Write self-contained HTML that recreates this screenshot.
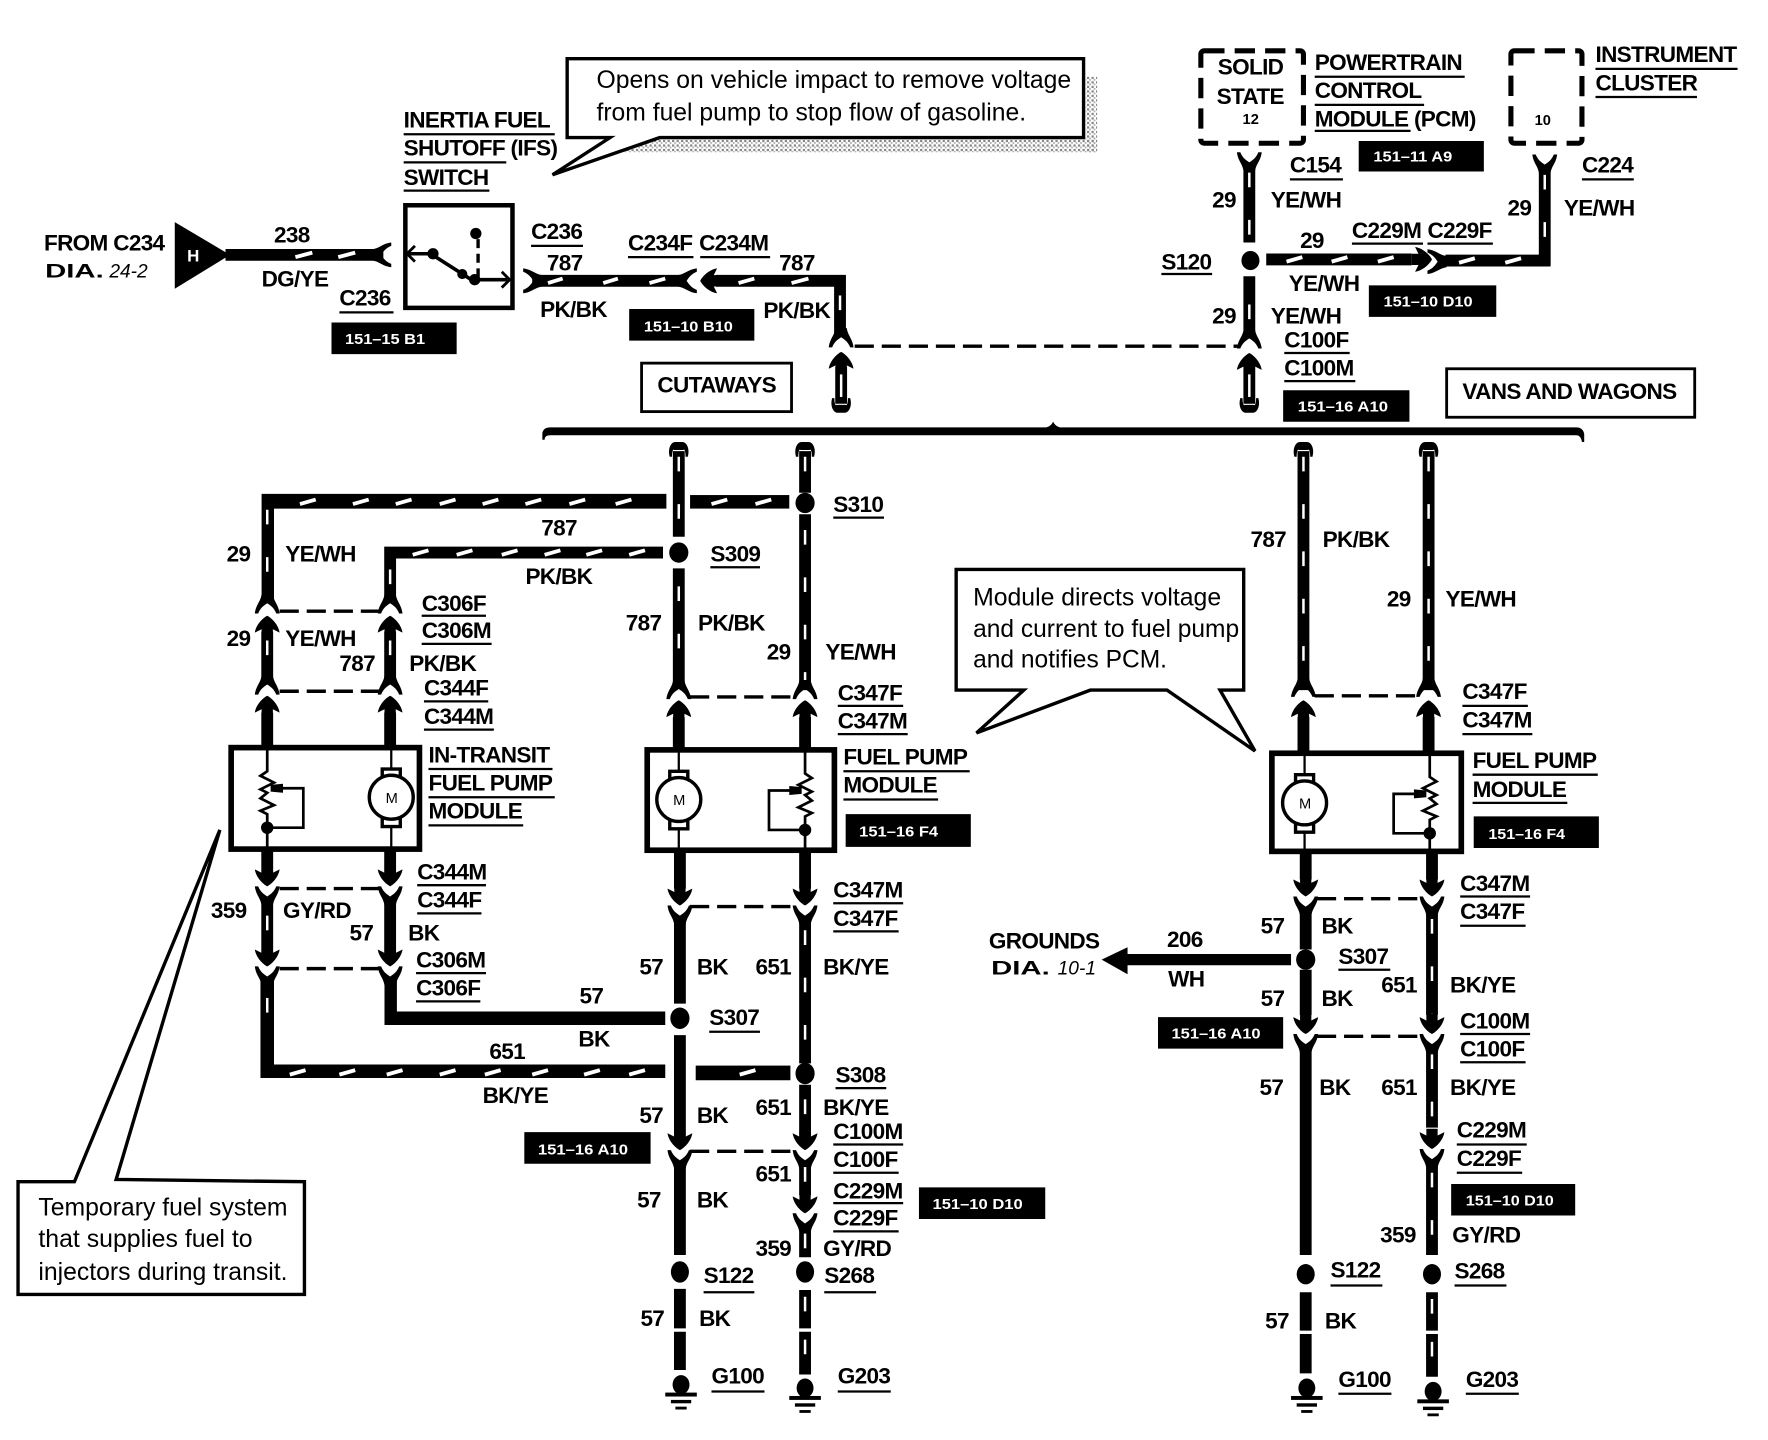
<!DOCTYPE html>
<html><head><meta charset="utf-8"><title>Fuel pump wiring diagram</title>
<style>
html,body{margin:0;padding:0;background:#fff}
svg{display:block}
text{font-family:"Liberation Sans",sans-serif;fill:#000}
.l{font-size:20px;font-weight:bold;letter-spacing:-.6px}
.n{font-size:22px}
.t{font-size:13px;fill:#fff;font-weight:bold}
.w{stroke:#000;stroke-width:10.5;fill:none}
.s{stroke:#fff;stroke-width:2.2;fill:none;stroke-dasharray:13 29}
.h{stroke:#fff;stroke-width:3.4;fill:none}
.u{stroke:#000;stroke-width:2;fill:none}
.da{stroke:#000;stroke-width:3;fill:none;stroke-dasharray:17 7}
.b{fill:#fff;stroke:#000;stroke-width:3}
</style></head><body>
<svg xmlns="http://www.w3.org/2000/svg" width="1768" height="1440" viewBox="0 0 1568 1277">
<defs>
<pattern id="ht" width="4" height="4" patternUnits="userSpaceOnUse"><rect width="2" height="2" fill="#888"/><rect x="2" y="2" width="1.5" height="1.5" fill="#aaa"/></pattern>
<path id="f" d="M-11,0 C-10,8 -6,10 -5,17 L5,17 C6,10 10,8 11,0 L8,0 C6,5 3,7 0,9 C-3,7 -6,5 -8,0Z"/>
<path id="a" d="M0,0 C4,2 10,8 11,15 L5,12 L5,18 L-5,18 L-5,12 L-11,15 C-10,8 -4,2 0,0Z"/>
<path id="c" d="M-8,-9 C-10,-2 -7,4 -3,4 L3,4 C7,4 10,-2 8,-9 L6,-9 C6,-4 5,-2 4,-3 L-4,-3 C-5,-2 -6,-4 -6,-9Z"/>
<g id="g"><ellipse cx="0" cy="7" rx="7.5" ry="8.5"/><rect x="-14" y="14" width="28" height="3.5"/><rect x="-9" y="20.5" width="18" height="3"/><rect x="-5" y="26.5" width="10" height="2.5"/></g>
<g id="mot"><path d="M0,0V90" stroke="#000" stroke-width="2"/><rect x="-8" y="19" width="16" height="8" fill="#fff" stroke="#000" stroke-width="3"/><rect x="-8" y="62" width="16" height="8" fill="#fff" stroke="#000" stroke-width="3"/><circle cx="0" cy="44" r="19.5" fill="#fff" stroke="#000" stroke-width="3"/></g>
<g id="res"><path d="M0,0V21 L6,25 L-6,31 L6,37 L0,40 L6,45 L-6,51 L6,56 L0,59 V90" fill="none" stroke="#000" stroke-width="2.4"/><path d="M-4,36 H-32 V71 H0" fill="none" stroke="#000" stroke-width="2.4"/><path d="M-14,32 L-3,33 L-3,39 L-14,40Z"/><circle cx="0" cy="71" r="5.5"/></g>
</defs>

<!-- halftone shadow -->
<rect x="545" y="123" width="428" height="12" fill="url(#ht)"/>
<rect x="963" y="68" width="10" height="67" fill="url(#ht)"/>

<!-- top wires -->
<polygon points="155,197 204,226 155,256"/>
<text x="166" y="232" font-size="15" font-weight="bold" style="fill:#fff">H</text>
<path class="w" d="M200,226H340"/>
<path class="h" d="M262,228l15,-4M300,228l15,-4"/>
<use href="#f" transform="translate(347,226) rotate(90)"/>
<path class="w" d="M472,249H607"/>
<path class="h" d="M486,251l13,-4M535,251l13,-4M576,251l14,-4"/>
<use href="#f" transform="translate(464,249) rotate(-90)"/>
<use href="#f" transform="translate(618,249) rotate(90)"/>
<use href="#a" transform="translate(621,249) rotate(-90)"/>
<path class="w" d="M635,249H750M745,244V298"/>
<path class="h" d="M655,251l14,-4M702,251l15,-4"/>
<path class="s" d="M745,262V298"/>
<use href="#f" transform="translate(746,308) scale(1,-1)"/>
<path class="da" d="M758,307H1098"/>
<use href="#a" transform="translate(746,312)"/>
<path class="w" d="M746,325V358"/><path class="s" d="M746,332V352" style="stroke-dasharray:none"/>
<use href="#c" transform="translate(746,362)"/>

<path class="w" d="M1108,148V215"/><path class="s" d="M1108,153V215"/>
<use href="#f" transform="translate(1108,135)"/>
<ellipse cx="1109" cy="231" rx="8" ry="8.5"/>
<path class="w" d="M1108,245V298"/><path class="s" d="M1108,270V296"/>
<use href="#f" transform="translate(1108,309) scale(1,-1)"/>
<use href="#a" transform="translate(1108,313)"/>
<path class="w" d="M1108,325V358"/><path class="s" d="M1108,332V352" style="stroke-dasharray:none"/>
<use href="#c" transform="translate(1108,362)"/>
<path class="w" d="M1123,230H1252"/>
<path class="h" d="M1141,232l14,-4M1181,232l14,-4M1222,232l14,-4"/>
<use href="#a" transform="translate(1270,230) rotate(90)"/>
<use href="#f" transform="translate(1266,232) rotate(-90)"/>
<path class="w" d="M1282,231H1375M1370,236V150"/>
<path class="h" d="M1294,233l14,-4M1335,233l14,-4"/>
<path class="s" d="M1370,155V225"/>
<use href="#f" transform="translate(1370,137)"/>

<!-- brace -->
<path d="M481,390 L481,384 Q482,379 488,379 L928,379 Q932,378 934,374 Q936,378 940,379 L1398,379 Q1404,379 1405,385 L1405,392 L1403,392 Q1402,386 1398,386 L488,386 Q483,386 483,390Z"/>

<!-- cutaway wires -->
<path class="w" d="M602,400V476M602,504V612"/><path class="s" d="M602,405V476M602,520V612"/>
<use href="#c" transform="translate(602,396) scale(1,-1)"/>
<path class="w" d="M714,400V437M714,456V612"/><path class="s" d="M714,405V437M714,470V612"/>
<use href="#c" transform="translate(714,396) scale(1,-1)"/>
<path d="M232,438H591V451H243V535H232Z"/>
<rect x="612" y="439" width="88" height="12"/>
<path class="h" d="M266,447l14,-4M313,447l14,-4M351,447l14,-4M390,447l14,-4M428,447l14,-4M466,447l14,-4M505,447l14,-4M546,447l14,-4M631,447l14,-4M670,447l14,-4"/>
<path class="s" d="M237,452V530"/>
<ellipse cx="714" cy="446" rx="8.5" ry="9"/>
<path class="w" d="M346,530V490H588"/>
<path class="h" d="M366,492l14,-4M405,492l14,-4M445,492l14,-4M483,492l14,-4M520,492l14,-4M558,492l14,-4"/>
<path class="s" d="M346,505V530"/>
<ellipse cx="602" cy="490" rx="8.5" ry="9"/>
<use href="#f" transform="translate(237,544) scale(1,-1)"/>
<use href="#f" transform="translate(346,544) scale(1,-1)"/>
<path class="da" d="M248,542H338"/>
<use href="#a" transform="translate(237,546)"/><use href="#a" transform="translate(346,546)"/>
<path class="w" d="M237,560V606M346,560V606"/><path class="s" d="M237,568V600M346,568V600"/>
<use href="#f" transform="translate(237,616) scale(1,-1)"/>
<use href="#f" transform="translate(346,616) scale(1,-1)"/>
<path class="da" d="M248,613H338"/>
<use href="#a" transform="translate(237,617)"/><use href="#a" transform="translate(346,617)"/>
<path class="w" d="M237,632V664M346,632V664"/>

<use href="#f" transform="translate(602,620) scale(1,-1)"/>
<use href="#f" transform="translate(714,620) scale(1,-1)"/>
<path class="da" d="M612,618H705"/>
<use href="#a" transform="translate(602,621)"/><use href="#a" transform="translate(714,621)"/>
<path class="w" d="M602,636V666M714,636V666"/>

<!-- in-transit below -->
<path class="w" d="M237,752V775M346,752V775"/>
<use href="#a" transform="translate(237,786) scale(1,-1)"/><use href="#a" transform="translate(346,786) scale(1,-1)"/>
<use href="#f" transform="translate(237,786)"/><use href="#f" transform="translate(346,786)"/>
<path class="da" d="M248,788H338"/>
<path class="w" d="M237,800V845M346,800V845"/><path class="s" d="M237,812V845"/>
<use href="#a" transform="translate(237,857) scale(1,-1)"/><use href="#a" transform="translate(346,857) scale(1,-1)"/>
<use href="#f" transform="translate(237,857)"/><use href="#f" transform="translate(346,857)"/>
<path class="da" d="M248,859H338"/>
<path d="M341,870H352V897H590V909H341Z"/>
<path d="M231,870H243V944H590V956H231Z"/>
<path class="s" d="M237,885V925"/>
<path class="h" d="M257,953l14,-4M301,953l14,-4M343,953l14,-4M390,953l14,-4M430,953l14,-4M472,953l14,-4M518,953l14,-4M558,953l14,-4"/>
<rect x="617" y="945" width="84" height="13"/>
<path class="h" d="M656,953l14,-4"/>

<!-- cutaways below pump -->
<path class="w" d="M603,752V788M714,752V788"/>
<use href="#a" transform="translate(603,803) scale(1,-1)"/><use href="#a" transform="translate(714,803) scale(1,-1)"/>
<use href="#f" transform="translate(603,803)"/><use href="#f" transform="translate(714,803)"/>
<path class="da" d="M612,804H705"/>
<path class="w" d="M603,815V890M603,918V1008M714,815V943M714,962V1008"/>
<path class="s" d="M714,825V943M714,975V1005"/>
<ellipse cx="603" cy="903" rx="8.5" ry="9.5"/><ellipse cx="714" cy="952" rx="8.5" ry="9.5"/>
<use href="#a" transform="translate(603,1020) scale(1,-1)"/><use href="#a" transform="translate(714,1020) scale(1,-1)"/>
<use href="#f" transform="translate(603,1020)"/><use href="#f" transform="translate(714,1020)"/>
<path class="da" d="M612,1021H705"/>
<path class="w" d="M603,1032V1113M714,1032V1060"/><path class="s" d="M714,1035V1060"/>
<use href="#a" transform="translate(714,1076) scale(1,-1)"/>
<use href="#f" transform="translate(714,1076)"/>
<path class="w" d="M714,1090V1115"/><path class="s" d="M714,1094V1112"/>
<ellipse cx="603" cy="1128" rx="8" ry="9.5"/><ellipse cx="714" cy="1128" rx="8" ry="9.5"/>
<path class="w" d="M603,1143V1178M603,1181V1215M714,1144V1178M714,1181V1219"/><path class="s" d="M714,1150V1164M714,1188V1202"/>
<use href="#g" transform="translate(604,1221)"/><use href="#g" transform="translate(714,1224)"/>

<!-- right column -->
<path class="w" d="M1156,400V612M1267,400V612"/><path class="s" d="M1156,405V605M1267,405V605"/>
<use href="#c" transform="translate(1156,396) scale(1,-1)"/><use href="#c" transform="translate(1267,396) scale(1,-1)"/>
<use href="#f" transform="translate(1156,618) scale(1,-1)"/><use href="#f" transform="translate(1267,618) scale(1,-1)"/>
<path class="da" d="M1166,617H1258"/>
<use href="#a" transform="translate(1156,621)"/><use href="#a" transform="translate(1267,621)"/>
<path class="w" d="M1156,636V668M1267,636V668"/>
<path class="w" d="M1158,752V780M1270,752V780"/>
<use href="#a" transform="translate(1158,795) scale(1,-1)"/><use href="#a" transform="translate(1270,795) scale(1,-1)"/>
<use href="#f" transform="translate(1158,795)"/><use href="#f" transform="translate(1270,795)"/>
<path class="da" d="M1168,797H1260"/>
<path class="w" d="M1158,808V842M1158,860V900M1270,808V900"/><path class="s" d="M1270,815V900"/>
<ellipse cx="1158" cy="851" rx="8.5" ry="9"/>
<use href="#a" transform="translate(1158,917) scale(1,-1)"/><use href="#a" transform="translate(1270,917) scale(1,-1)"/>
<use href="#f" transform="translate(1158,917)"/><use href="#f" transform="translate(1270,917)"/>
<path class="da" d="M1168,919H1260"/>
<path class="w" d="M1158,930V1113M1270,930V1000"/><path class="s" d="M1270,935V1000"/>
<use href="#a" transform="translate(1270,1019) scale(1,-1)"/>
<use href="#f" transform="translate(1270,1019)"/>
<path class="w" d="M1270,1032V1113"/><path class="s" d="M1270,1040V1110"/>
<ellipse cx="1158" cy="1130" rx="8" ry="9"/><ellipse cx="1270" cy="1130" rx="8" ry="9"/>
<path class="w" d="M1158,1146V1180M1158,1183V1218M1270,1146V1180M1270,1183V1221"/><path class="s" d="M1270,1152V1166M1270,1190V1204"/>
<use href="#g" transform="translate(1159,1224)"/><use href="#g" transform="translate(1271,1227)"/>
<path d="M1145,846V856H1000V864L977,851L1000,840V846Z"/>

<!-- switch -->
<rect x="359.5" y="182" width="95" height="91" fill="#fff" stroke="#000" stroke-width="4"/>
<path d="M362,225H382L418,248H450" fill="none" stroke="#000" stroke-width="3.2"/>
<path d="M368,218L361,225L368,232M445,241L452,248L445,255" fill="none" stroke="#000" stroke-width="2.5"/>
<circle cx="384" cy="225" r="5"/><circle cx="410" cy="243" r="4.5"/><circle cx="421" cy="248" r="5"/><circle cx="422" cy="207" r="5"/>
<path d="M424,212V246" stroke="#000" stroke-width="3" stroke-dasharray="8 5"/>

<!-- modules -->
<rect x="205" y="663" width="167" height="90" class="b" style="stroke-width:5"/>
<rect x="574" y="665" width="166" height="89" class="b" style="stroke-width:5"/>
<rect x="1128" y="668" width="168" height="87" class="b" style="stroke-width:5"/>
<use href="#mot" transform="translate(347,663)"/>
<use href="#res" transform="translate(237,663) scale(-1,1)"/>
<use href="#mot" transform="translate(602,665)"/>
<use href="#res" transform="translate(714,665)"/>
<use href="#mot" transform="translate(1157,668)"/>
<use href="#res" transform="translate(1268,668)"/>
<text x="342" y="712" font-size="13">M</text><text x="597" y="714" font-size="13">M</text><text x="1152" y="717" font-size="13">M</text>

<!-- dashed ECU boxes -->
<rect x="1065" y="45" width="91" height="82" rx="3" fill="none" stroke="#000" stroke-width="4.5" stroke-dasharray="18 9"/>
<rect x="1340" y="45" width="63" height="82" rx="3" fill="none" stroke="#000" stroke-width="4.5" stroke-dasharray="18 9"/>

<!-- callouts -->
<polygon class="b" points="503,52 961,52 961,122 585,122 490,155 541,122 503,122"/>
<polygon class="b" points="848,505 1103,505 1103,612 1082,612 1113,666 1035,612 967,612 866,650 908,612 848,612"/>
<polygon class="b" points="16,1048 66,1048 195,736 103,1046 270,1048 270,1148 16,1148"/>
<rect x="569" y="322" width="133" height="43" fill="#fff" stroke="#000" stroke-width="2.5"/>
<rect x="1283" y="327" width="220" height="43" fill="#fff" stroke="#000" stroke-width="2.5"/>

<!-- tags -->
<path d="M294,286h111v28h-111zM558,274h111v28h-111zM1214,253h113v28h-113zM1138,346h112v28h-112zM750,722h111v29h-111zM1307,724h111v28h-111zM465,1004h112v28h-112zM1027,902h111v28h-111zM815,1053h112v28h-112zM1287,1050h110v28h-110zM1205,125h111v27h-111z"/>
<text class="t" x="306" y="305" textLength="71" lengthAdjust="spacingAndGlyphs">151–15 B1</text>
<text class="t" x="571" y="294" textLength="79" lengthAdjust="spacingAndGlyphs">151–10 B10</text>
<text class="t" x="1227" y="272" textLength="79" lengthAdjust="spacingAndGlyphs">151–10 D10</text>
<text class="t" x="1151" y="365" textLength="80" lengthAdjust="spacingAndGlyphs">151–16 A10</text>
<text class="t" x="762" y="742" textLength="70" lengthAdjust="spacingAndGlyphs">151–16 F4</text>
<text class="t" x="1320" y="744" textLength="68" lengthAdjust="spacingAndGlyphs">151–16 F4</text>
<text class="t" x="477" y="1024" textLength="80" lengthAdjust="spacingAndGlyphs">151–16 A10</text>
<text class="t" x="1039" y="921" textLength="79" lengthAdjust="spacingAndGlyphs">151–16 A10</text>
<text class="t" x="827" y="1072" textLength="80" lengthAdjust="spacingAndGlyphs">151–10 D10</text>
<text class="t" x="1300" y="1069" textLength="78" lengthAdjust="spacingAndGlyphs">151–10 D10</text>
<text class="t" x="1218" y="143" textLength="70" lengthAdjust="spacingAndGlyphs">151–11 A9</text>

<!-- underlines -->
<path class="u" d="M301,277h48M358,119h134M358,144h91M358,169h76M471,218h46M557,228h58M621,228h62M1166,68h133M1166,93h97M1166,116h85M1415,61h126M1415,86h90M1144,159h47M1139,313h58M1139,338h63M1199,216h63M1266,216h58M1403,159h46M1030,243h45M739,459h45M630,503h44M374,546h57M374,571h62M376,622h57M376,647h62M743,626h58M743,651h62M380,682h110M380,707h112M380,732h84M748,684h112M748,709h84M370,785h61M370,810h57M369,863h62M369,888h57M739,801h62M739,826h58M629,915h45M741,965h45M739,1015h62M739,1040h58M739,1067h62M739,1092h58M624,1146h45M731,1146h46M631,1234h47M743,1234h47M1297,626h58M1297,651h62M1306,687h111M1306,712h84M1295,795h62M1295,821h58M1187,860h46M1295,917h62M1295,942h58M1292,1015h62M1292,1040h58M1180,1140h46M1290,1140h46M1187,1236h47M1300,1236h47"/>

<!-- labels -->
<g class="l">
<text x="39" y="222">FROM C234</text>
<text x="243" y="215">238</text><text x="232" y="254">DG/YE</text>
<text x="301" y="271">C236</text>
<text x="358" y="113">INERTIA FUEL</text><text x="358" y="138">SHUTOFF (IFS)</text><text x="358" y="164">SWITCH</text>
<text x="471" y="212">C236</text><text x="485" y="240">787</text><text x="479" y="281">PK/BK</text>
<text x="557" y="222">C234F</text><text x="620" y="222">C234M</text><text x="691" y="240">787</text><text x="677" y="282">PK/BK</text>
<text x="583" y="348">CUTAWAYS</text>
<text x="1080" y="66">SOLID</text><text x="1079" y="92">STATE</text>
<text x="1166" y="62">POWERTRAIN</text><text x="1166" y="87">CONTROL</text><text x="1166" y="112">MODULE (PCM)</text>
<text x="1415" y="55">INSTRUMENT</text><text x="1415" y="80">CLUSTER</text>
<text x="1144" y="153">C154</text><text x="1075" y="184">29</text><text x="1127" y="184">YE/WH</text>
<text x="1403" y="153">C224</text><text x="1337" y="191">29</text><text x="1387" y="191">YE/WH</text>
<text x="1153" y="220">29</text><text x="1199" y="211">C229M</text><text x="1266" y="211">C229F</text>
<text x="1030" y="239">S120</text><text x="1143" y="258">YE/WH</text>
<text x="1075" y="287">29</text><text x="1127" y="287">YE/WH</text>
<text x="1139" y="308">C100F</text><text x="1139" y="333">C100M</text>
<text x="1297" y="354">VANS AND WAGONS</text>

<text x="739" y="454">S310</text><text x="480" y="475">787</text><text x="630" y="498">S309</text>
<text x="201" y="498">29</text><text x="253" y="498">YE/WH</text><text x="466" y="518">PK/BK</text>
<text x="374" y="542">C306F</text><text x="374" y="566">C306M</text>
<text x="201" y="573">29</text><text x="253" y="573">YE/WH</text><text x="301" y="595">787</text><text x="363" y="595">PK/BK</text>
<text x="376" y="617">C344F</text><text x="376" y="642">C344M</text>
<text x="555" y="559">787</text><text x="619" y="559">PK/BK</text><text x="680" y="585">29</text><text x="732" y="585">YE/WH</text>
<text x="743" y="621">C347F</text><text x="743" y="646">C347M</text>
<text x="380" y="676">IN-TRANSIT</text><text x="380" y="701">FUEL PUMP</text><text x="380" y="726">MODULE</text>
<text x="748" y="678">FUEL PUMP</text><text x="748" y="703">MODULE</text>
<text x="370" y="780">C344M</text><text x="370" y="805">C344F</text>
<text x="187" y="814">359</text><text x="251" y="814">GY/RD</text><text x="310" y="834">57</text><text x="362" y="834">BK</text>
<text x="369" y="858">C306M</text><text x="369" y="883">C306F</text>
<text x="739" y="796">C347M</text><text x="739" y="821">C347F</text>
<text x="567" y="864">57</text><text x="618" y="864">BK</text><text x="670" y="864">651</text><text x="730" y="864">BK/YE</text>
<text x="514" y="890">57</text><text x="513" y="928">BK</text><text x="629" y="909">S307</text>
<text x="434" y="939">651</text><text x="428" y="978">BK/YE</text><text x="741" y="960">S308</text>
<text x="670" y="989">651</text><text x="730" y="989">BK/YE</text><text x="567" y="996">57</text><text x="618" y="996">BK</text>
<text x="739" y="1010">C100M</text><text x="739" y="1035">C100F</text><text x="670" y="1048">651</text>
<text x="739" y="1063">C229M</text><text x="739" y="1087">C229F</text><text x="565" y="1071">57</text><text x="618" y="1071">BK</text>
<text x="670" y="1114">359</text><text x="730" y="1114">GY/RD</text>
<text x="624" y="1138">S122</text><text x="731" y="1138">S268</text>
<text x="568" y="1176">57</text><text x="620" y="1176">BK</text>
<text x="631" y="1227">G100</text><text x="743" y="1227">G203</text>

<text x="1109" y="485">787</text><text x="1173" y="485">PK/BK</text><text x="1230" y="538">29</text><text x="1282" y="538">YE/WH</text>
<text x="1297" y="620">C347F</text><text x="1297" y="645">C347M</text>
<text x="1306" y="681">FUEL PUMP</text><text x="1306" y="707">MODULE</text>
<text x="1295" y="790">C347M</text><text x="1295" y="815">C347F</text>
<text x="1118" y="828">57</text><text x="1172" y="828">BK</text>
<text x="877" y="841">GROUNDS</text><text x="1035" y="840">206</text><text x="1036" y="875">WH</text>
<text x="1187" y="855">S307</text><text x="1225" y="880">651</text><text x="1286" y="880">BK/YE</text>
<text x="1118" y="892">57</text><text x="1172" y="892">BK</text>
<text x="1295" y="912">C100M</text><text x="1295" y="937">C100F</text>
<text x="1117" y="971">57</text><text x="1170" y="971">BK</text><text x="1225" y="971">651</text><text x="1286" y="971">BK/YE</text>
<text x="1292" y="1009">C229M</text><text x="1292" y="1034">C229F</text>
<text x="1224" y="1102">359</text><text x="1288" y="1102">GY/RD</text>
<text x="1180" y="1133">S122</text><text x="1290" y="1134">S268</text>
<text x="1122" y="1178">57</text><text x="1175" y="1178">BK</text>
<text x="1187" y="1230">G100</text><text x="1300" y="1230">G203</text>
</g>
<text x="40" y="246" font-size="17" font-weight="bold" textLength="52" lengthAdjust="spacingAndGlyphs">DIA.</text>
<text x="97" y="246" font-size="17" font-style="italic">24-2</text>
<text x="879" y="864" font-size="17" font-weight="bold" textLength="52" lengthAdjust="spacingAndGlyphs">DIA.</text>
<text x="938" y="864" font-size="17" font-style="italic">10-1</text>
<text x="1102" y="110" font-size="13" font-weight="bold">12</text>
<text x="1361" y="111" font-size="13" font-weight="bold">10</text>

<text class="n" x="529" y="78" textLength="421" lengthAdjust="spacingAndGlyphs">Opens on vehicle impact to remove voltage</text>
<text class="n" x="529" y="107" textLength="381" lengthAdjust="spacingAndGlyphs">from fuel pump to stop flow of gasoline.</text>
<text class="n" x="863" y="537" textLength="220" lengthAdjust="spacingAndGlyphs">Module directs voltage</text>
<text class="n" x="863" y="565" textLength="236" lengthAdjust="spacingAndGlyphs">and current to fuel pump</text>
<text class="n" x="863" y="592" textLength="172" lengthAdjust="spacingAndGlyphs">and notifies PCM.</text>
<text class="n" x="34" y="1078" textLength="221" lengthAdjust="spacingAndGlyphs">Temporary fuel system</text>
<text class="n" x="34" y="1106" textLength="190" lengthAdjust="spacingAndGlyphs">that supplies fuel to</text>
<text class="n" x="34" y="1135" textLength="221" lengthAdjust="spacingAndGlyphs">injectors during transit.</text>
</svg>
</body></html>
